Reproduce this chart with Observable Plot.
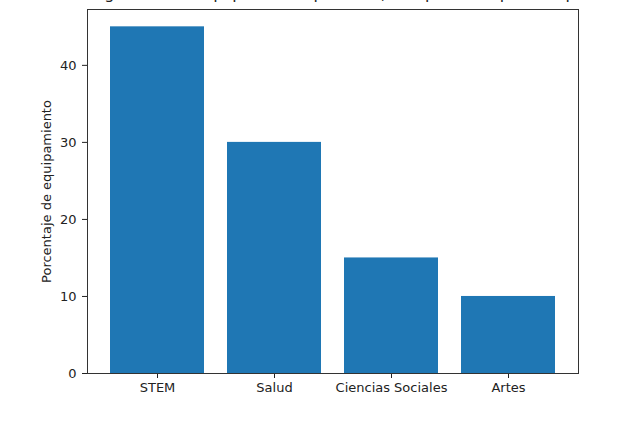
<!DOCTYPE html>
<html>
<head>
<meta charset="utf-8">
<script src="https://cdn.jsdelivr.net/npm/d3@7"></script>
<script src="https://cdn.jsdelivr.net/npm/@observablehq/plot@0.6"></script>
<style>
  html, body { margin: 0; padding: 0; background: #fff; }
  #chart svg { display: block; font-family: "DejaVu Sans", sans-serif; }
</style>
</head>
<body>
<div id="chart"></div>
<script>
const titleText = "Asignación de equipamiento por área, comparación por campo";
const categories = ["STEM", "Salud", "Ciencias Sociales", "Artes"];
const values = [45, 30, 15, 10];
const yTicks = [0, 10, 20, 30, 40];
const yLabel = "Porcentaje de equipamiento";

const data = categories.map((c, i) => ({category: c, value: values[i]}));

const chart = Plot.plot({
  width: 625,
  height: 424,
  marginLeft: 87,
  marginRight: 47,
  marginTop: 9,
  marginBottom: 51,
  style: {fontFamily: "DejaVu Sans, sans-serif", fontSize: "13px", color: "#222", background: "#fff"},
  x: {domain: categories, paddingInner: 0.2, paddingOuter: 0.19, label: null, tickSize: 5, tickPadding: 4},
  y: {domain: [0, 47.25], ticks: yTicks, label: yLabel, labelAnchor: "center", labelArrow: "none", labelOffset: 46, tickSize: 5, tickPadding: 6},
  marks: [
    Plot.barY(data, {x: "category", y: "value", fill: "#1f77b4"}),
    Plot.frame({stroke: "#333", strokeWidth: 1}),
    Plot.text([titleText], {frameAnchor: "top", lineAnchor: "bottom", dy: -11, fontSize: 16, fill: "#222", text: d => d})
  ]
});
document.getElementById("chart").appendChild(chart);
</script>
</body>
</html>
